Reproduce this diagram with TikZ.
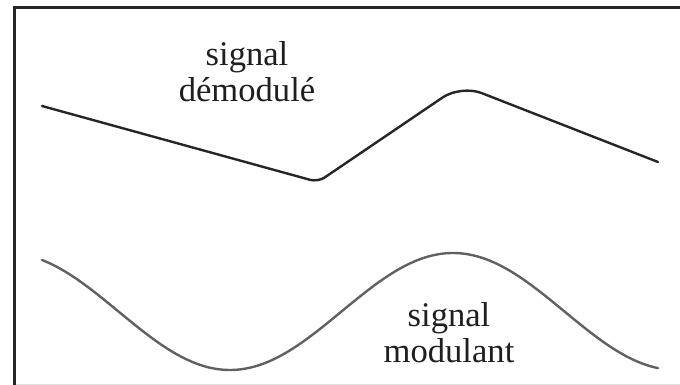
\documentclass[tikz,border=0pt]{standalone}
\usepackage{fontspec}
\setmainfont{Liberation Serif}
\begin{document}
\begin{tikzpicture}[x=0.5pt,y=-0.5pt,
  frameline/.style={line width=1.5pt,draw=black!85},
  demod/.style={line width=1.2pt,draw=black!85,line cap=round},
  modul/.style={line width=1.2pt,draw=black!62,line cap=round},
  lbl/.style={font=\fontsize{17.3}{18}\selectfont,align=center,inner sep=0pt,text=black!88}]
\useasboundingbox (0,0) rectangle (680,385);
\fill[white] (0,0) rectangle (680,385);
% frame
\draw[frameline] (14,385) -- (14,8) -- (680,8);
\draw[black!12,line width=0.5pt] (16,384.5) -- (680,384.5);
% demodulated signal
\draw[demod] (42,106) [rounded corners=4pt] -- (318,182) [rounded corners=11pt] -- (461,85) -- (658,162);
% modulating signal
\draw[modul] plot[domain=42:658,samples=120,smooth] (\x,{311.5-58.5*cos(0.80717*(\x-453))});
% labels
\node[lbl] (tdemod) at (247,72) {signal\\démodulé};
\node[lbl] (tmodul) at (449,333) {signal\\modulant};
\end{tikzpicture}
\end{document}
